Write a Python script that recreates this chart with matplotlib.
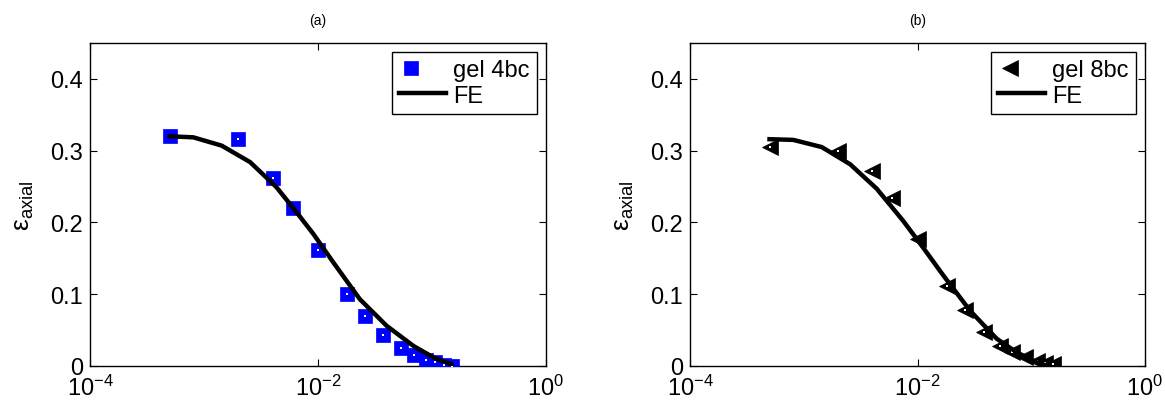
import matplotlib
matplotlib.use('Agg')
import matplotlib.pyplot as plt
from matplotlib.legend_handler import HandlerTuple

plt.rcParams['font.family'] = ['Liberation Sans', 'DejaVu Sans']
plt.rcParams['mathtext.fontset'] = 'custom'
plt.rcParams['mathtext.rm'] = 'Liberation Sans'
plt.rcParams['mathtext.it'] = 'Liberation Sans:italic'

# -------- data --------
# (a) gel 4bc
x_gel4 = [5e-4, 2e-3, 4e-3, 6e-3, 0.01, 0.0178, 0.0257, 0.0374, 0.0535, 0.069, 0.088, 0.106, 0.128, 0.150]
y_gel4 = [0.320, 0.316, 0.262, 0.220, 0.161, 0.100, 0.069, 0.043, 0.025, 0.015, 0.008, 0.0056, 0.002, 0.0]
x_fe_a = [5e-4, 8.05e-4, 1.43e-3, 2.54e-3, 4.33e-3, 6.5e-3, 9.1e-3, 0.0136, 0.0233, 0.040, 0.0686, 0.1028, 0.149]
y_fe_a = [0.320, 0.3186, 0.307, 0.284, 0.249, 0.214, 0.184, 0.1445, 0.093, 0.056, 0.028, 0.012, 0.002]

# (b) gel 8bc
x_gel8 = [5e-4, 2e-3, 4e-3, 6e-3, 0.0102, 0.018, 0.026, 0.0387, 0.053, 0.0673, 0.088, 0.112, 0.132, 0.156]
y_gel8 = [0.305, 0.299, 0.272, 0.234, 0.177, 0.112, 0.0785, 0.048, 0.028, 0.020, 0.012, 0.0074, 0.004, 0.0028]
x_fe_b = [5e-4, 8.1e-4, 1.44e-3, 2.56e-3, 4.38e-3, 7.5e-3, 0.0112, 0.0169, 0.029, 0.0497, 0.0745, 0.112, 0.141]
y_fe_b = [0.316, 0.315, 0.305, 0.281, 0.247, 0.202, 0.165, 0.126, 0.077, 0.038, 0.019, 0.005, 0.0]

yticks = [0, 0.1, 0.2, 0.3, 0.4]
ytick_labels = ['0', '0.1', '0.2', '0.3', '0.4']

fig = plt.figure(figsize=(11.65, 4.06), dpi=100)
W, H = 1165, 406
ax_a = fig.add_axes([90 / W, 1 - 367 / H, 456 / W, 323 / H])
ax_b = fig.add_axes([690 / W, 1 - 367 / H, 455 / W, 323 / H])

panels = [
    (ax_a, '(a)', x_gel4, y_gel4, 's', 'blue', 'gel 4bc', x_fe_a, y_fe_a, 9.5),
    (ax_b, '(b)', x_gel8, y_gel8, '<', 'black', 'gel 8bc', x_fe_b, y_fe_b, 11),
]

for ax, title, xd, yd, mk, col, lab, xf, yf, ms in panels:
    body, = ax.plot(xd, yd, linestyle='none', marker=mk, markersize=ms,
                    mfc=col, mec=col, mew=0.5, zorder=3)
    dot, = ax.plot(xd, yd, linestyle='none', marker='s', markersize=1.8,
                   mfc='white', mec='white', mew=0, zorder=3.5)
    fe, = ax.plot(xf, yf, color='black', linewidth=3.2, zorder=4)
    ax.set_xscale('log')
    ax.set_xlim(1e-4, 1)
    ax.set_ylim(0, 0.45)
    ax.set_xticks([1e-4, 1e-2, 1])
    ax.xaxis.set_minor_locator(matplotlib.ticker.NullLocator())
    ax.set_yticks(yticks)
    ax.set_yticklabels(ytick_labels)
    ax.tick_params(direction='in', top=True, right=True, labelsize=17, length=5)
    ax.tick_params(axis='y', pad=5)
    ax.tick_params(axis='x', pad=6)
    ax.set_title(title, fontsize=10, pad=14)
    ax.set_ylabel('ε$_{\\mathregular{axial}}$', fontsize=19, labelpad=10)
    leg = ax.legend([(body, dot), fe], [lab, 'FE'],
                    handler_map={tuple: HandlerTuple(ndivide=None, pad=0)},
                    loc='upper right', fontsize=17, frameon=True, fancybox=False,
                    edgecolor='black', borderaxespad=0.38, handlelength=2.0,
                    handletextpad=0.3, borderpad=0.3, labelspacing=0.15,
                    framealpha=1)
    leg.get_frame().set_linewidth(1.0)
    for s in ax.spines.values():
        s.set_linewidth(1.0)

fig.savefig('out.png', dpi=100)
